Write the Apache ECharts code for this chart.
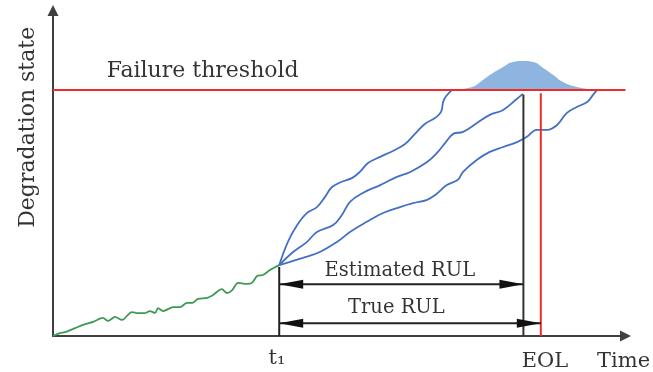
<!DOCTYPE html>
<html><head><meta charset="utf-8">
<script src="https://cdn.jsdelivr.net/npm/echarts@6/dist/echarts.min.js"></script>
<style>html,body{margin:0;padding:0;background:#fff}#c{width:653px;height:372px}</style>
</head><body><div id="c"></div>
<script>
const FONT = 'DejaVu Serif';
const threshold = 75;
const t1 = 39.0;
const eolEstimated = 81.1;
const eolTrue = 84.1;

// observed degradation history (green)
const history = [[0,0],[1.2,0.9],[2.1,1.2],[3.8,2.4],[5.2,3.4],[6.9,4.3],[8.6,5.5],[9.5,4.6],[10.7,5.8],[11.9,4.9],[13.6,7.3],[14.7,7.0],[15.9,7.0],[16.7,7.6],[17.6,7.0],[18.1,8.5],[19.0,7.6],[20.7,8.8],[21.9,8.8],[23.1,10.1],[24.0,10.1],[25.0,11.3],[26.6,11.6],[27.6,12.5],[29.1,14.3],[30.0,13.1],[30.9,14.0],[31.9,16.2],[33.4,15.9],[34.3,16.2],[35.2,18.3],[36.2,18.6],[37.4,20.1],[39.0,21.6]];

// predicted degradation paths (blue)
const path1 = [[39.0,21.6],[40.5,28.7],[42.1,33.8],[43.8,37.5],[45.5,39.3],[46.9,42.4],[48.1,45.4],[49.8,47.0],[51.6,48.2],[52.9,50.0],[54.3,52.7],[56.4,54.6],[58.6,56.4],[60.7,58.5],[62.4,61.6],[64.1,64.6],[65.9,66.5],[66.9,68.3],[67.4,72.0],[68.8,75.0]];
const path2 = [[39.0,21.6],[41.4,25.6],[43.8,28.7],[45.5,31.7],[48.3,33.8],[49.8,36.9],[51.2,40.9],[53.4,43.6],[56.4,46.0],[59.3,48.5],[61.6,50.0],[64.5,53.0],[66.2,55.8],[67.6,58.8],[69.0,61.6],[70.7,62.2],[73.1,64.9],[75.3,67.4],[77.6,68.9],[80.0,72.3],[81.0,73.8]];
const path3 = [[39.0,21.6],[43.1,23.8],[46.0,25.6],[49.0,28.7],[51.2,31.7],[54.1,34.8],[56.9,37.5],[59.8,39.3],[62.1,40.5],[64.5,41.5],[65.9,43.0],[67.9,46.0],[69.8,47.6],[70.7,50.0],[73.1,53.7],[75.3,56.1],[77.6,57.6],[80.0,59.1],[81.7,60.7],[83.4,62.8],[85.2,62.8],[86.9,64.3],[88.6,68.0],[90.3,69.8],[92.1,71.3],[93.1,73.5],[93.8,75.0]];

// failure time distribution on the threshold (height above threshold)
const pdfX = [68.8,72.4,74.1,75.9,77.6,79.3,81.0,82.8,84.5,86.2,87.9,90.3,93.8];
const pdfH = [0,1.0,3.0,5.2,7.0,8.5,8.8,8.5,6.7,4.6,2.4,0.9,0];

// RUL arrows
const rulY = [15.8, 3.9];
const rulEnd = [eolEstimated, eolTrue];

// text annotations
const labelX = [25.8, 59.8, 59.2, 38.6, 84.8, 93.8, -4.2];
const labelY = [80.6, 19.8, 8.7, -7.0, -7.9, -7.9, 63.6];
const labelText = ['Failure threshold','Estimated RUL','True RUL','t\u2081','EOL','Time','Degradation state'];
const labelSize = [22, 19.5, 19.5, 21, 21, 21, 22];
const labelAlign = ['center','center','center','center','center','left','center'];
const labelRotate = [0,0,0,0,0,0,90];

const chart = echarts.init(document.getElementById('c'));
const pdfData = pdfX.map((x,i)=>[x, threshold + pdfH[i]]);
const blue = '#4470c4';
const lineS = (data, color, width, smooth) => ({type:'line', data, showSymbol:false, symbol:'none', smooth, silent:true, lineStyle:{color, width}, z:3});

const labelData = labelText.map((t,i)=>({
  value:[labelX[i], labelY[i]],
  label:{formatter:t, fontSize:labelSize[i], align:labelAlign[i], rotate:labelRotate[i], color:'#000'}
}));

chart.setOption({
  animation:false,
  backgroundColor:'#fff',
  grid:{left:53, right:27.5, top:10.5, bottom:36},
  xAxis:{type:'value', min:0, max:98.7, axisTick:{show:false}, axisLabel:{show:false}, splitLine:{show:false},
    axisLine:{show:true, symbol:['none','path://M5,0L10,10L0,10Z'], symbolSize:[11,15], lineStyle:{color:'#404040', width:2}}},
  yAxis:{type:'value', min:0, max:99.2, axisTick:{show:false}, axisLabel:{show:false}, splitLine:{show:false},
    axisLine:{show:true, symbol:['none','path://M5,0L10,10L0,10Z'], symbolSize:[13,11], lineStyle:{color:'#404040', width:2}}},
  series:[
    {type:'line', data:pdfData, showSymbol:false, symbol:'none', smooth:0.5, silent:true,
     lineStyle:{width:0}, areaStyle:{color:'#8eb4e0', opacity:1, origin:threshold}, z:2},
    lineS(history, '#3d9a55', 1.8, 0.3),
    lineS(path1, blue, 1.8, 0.4),
    lineS(path2, blue, 1.8, 0.4),
    lineS(path3, blue, 1.8, 0.4),
    lineS([[0,threshold],[98.7,threshold]], '#f02a2a', 2, false),
    lineS([[t1,0],[t1,21.0]], '#222', 2, false),
    lineS([[eolEstimated,0],[eolEstimated,73.6]], '#333', 2, false),
    lineS([[eolTrue,0],[eolTrue,74]], '#f02a2a', 2, false),
    {type:'custom', silent:true, z:4, clip:false,
     data: rulY.map((y,i)=>[t1, rulEnd[i], y]),
     renderItem:(params, api)=>{
       const a = api.coord([api.value(0), api.value(2)]);
       const b = api.coord([api.value(1), api.value(2)]);
       const L = 24, H = 4.5;
       const st = {fill:'#111'};
       return {type:'group', children:[
         {type:'line', shape:{x1:a[0], y1:a[1], x2:b[0], y2:b[1]}, style:{stroke:'#222', lineWidth:2}},
         {type:'polygon', shape:{points:[[a[0],a[1]],[a[0]+L,a[1]-H],[a[0]+L,a[1]+H]]}, style:st},
         {type:'polygon', shape:{points:[[b[0],b[1]],[b[0]-L,b[1]-H],[b[0]-L,b[1]+H]]}, style:st}
       ]};
     }},
    {type:'scatter', data:labelData, symbolSize:0, silent:true, clip:false, z:5,
     label:{show:true, position:'inside', verticalAlign:'middle', color:'#000', textBorderWidth:0, fontFamily:FONT}}
  ]
});
</script></body></html>
